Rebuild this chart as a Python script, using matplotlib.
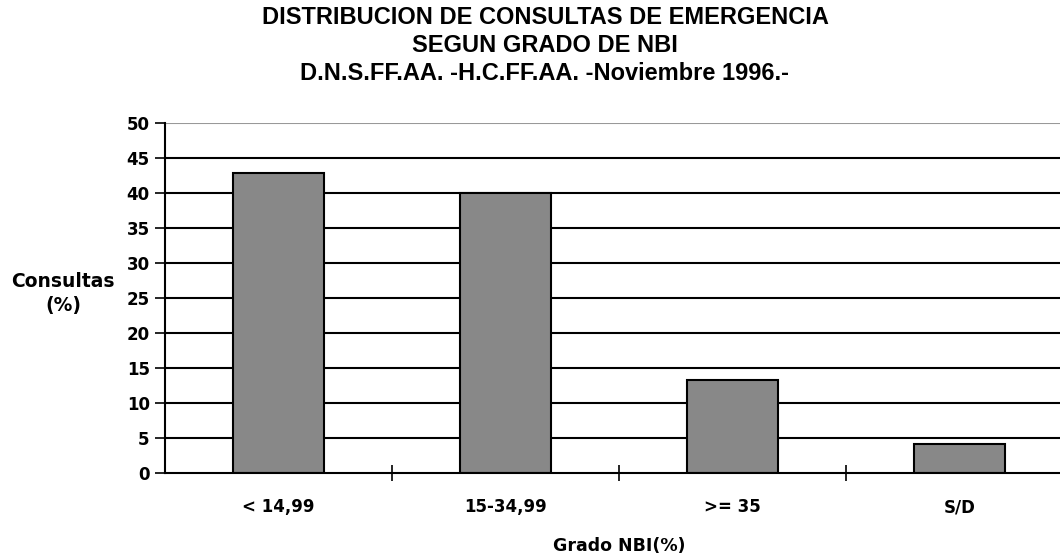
import matplotlib
matplotlib.use("Agg")
import matplotlib.pyplot as plt

categories = ["< 14,99", "15-34,99", ">= 35", "S/D"]
values = [42.9, 40.0, 13.3, 4.1]
yticks = [0, 5, 10, 15, 20, 25, 30, 35, 40, 45, 50]
title_lines = ["DISTRIBUCION DE CONSULTAS DE EMERGENCIA",
               "SEGUN GRADO DE NBI",
               "D.N.S.FF.AA. -H.C.FF.AA. -Noviembre 1996.-"]

plt.rcParams['font.family'] = ['DejaVu Sans']

W, H = 1060, 557
fig = plt.figure(figsize=(W/100, H/100), dpi=100)
ax = fig.add_axes([165/W, 1-473/H, (1073-165)/W, (473-123)/H])

x = list(range(len(categories)))
ax.bar(x, values, width=0.4, color='#888888', edgecolor='black', linewidth=1.5, zorder=3)

ax.set_xlim(-0.5, len(categories)-0.5)
ax.set_ylim(0, 50)
ax.set_yticks(yticks)
ax.set_yticklabels([str(v) for v in yticks], fontsize=12, fontweight='bold')
for v in yticks[1:]:
    ax.axhline(v, color='black' if v < 50 else '#999999', linewidth=1.5, zorder=1)

ax.set_xticks([i + 0.5 for i in range(len(categories)-1)], minor=False)
ax.set_xticklabels([])
ax.set_xticks(x, minor=True)
ax.set_xticklabels(categories, minor=True, fontsize=12, fontweight='bold')
ax.tick_params(axis='x', which='major', direction='inout', length=11, width=1.2)
ax.tick_params(axis='x', which='minor', length=0, pad=18)
ax.tick_params(axis='y', direction='out', length=7, width=1.2, pad=4)

for s in ['top', 'right']:
    ax.spines[s].set_visible(False)
for s in ['left', 'bottom']:
    ax.spines[s].set_linewidth(1.5)
    ax.spines[s].set_zorder(4)

fig.text(619/W, 1-546/H, "Grado NBI(%)", ha='center', va='center', fontsize=12.5, fontweight='bold')

fig.text(63/W, 1-282/H, "Consultas", ha='center', va='center', fontsize=13.5, fontweight='bold')
fig.text(63/W, 1-306/H, "(%)", ha='center', va='center', fontsize=13.5, fontweight='bold')

for i, (t, yy) in enumerate(zip(title_lines, [18, 46, 73])):
    fig.text(545/W, 1-yy/H, t, ha='center', va='center', fontsize=17, fontweight='bold',
             family=['Liberation Sans', 'DejaVu Sans'])

fig.savefig("out.png", dpi=100)
